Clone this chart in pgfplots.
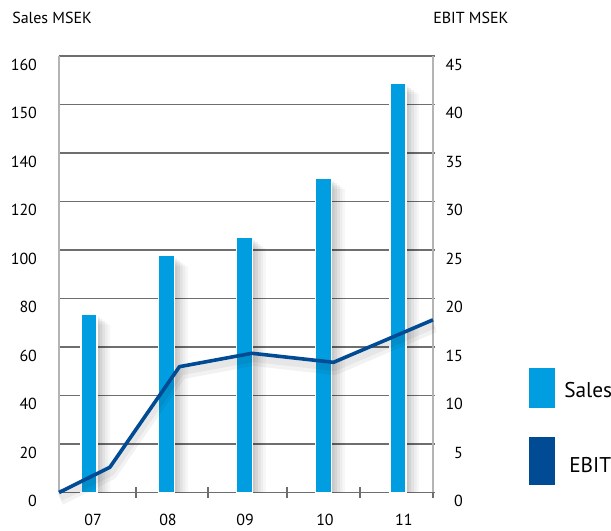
\documentclass[border=0pt]{standalone}
\usepackage{fontspec}
\setmainfont{PT Sans}
\usepackage{pgfplots}
\usepackage{pgfplotstable}
\pgfplotsset{compat=1.18}
\definecolor{salesblue}{HTML}{009EE0}
\definecolor{ebitblue}{HTML}{004B93}
\definecolor{gridgray}{HTML}{6E6E6E}
\definecolor{axisgray}{HTML}{B4B4B4}
\pgfplotstableread{
x    y
0.40 18.4
1.44 24.4
2.48 26.3
3.54 32.4
4.53 42.2
}\salesdata
\pgfplotstableread{
x    y
0    0
0.68 2.6
1.61 12.97
2.58 14.35
3.67 13.42
5    17.8
}\ebitdata
\begin{document}
\begin{tikzpicture}
\useasboundingbox (-44.25pt,-28.875pt) rectangle (414pt,369.375pt);
\begin{axis}[
  at={(0,0)}, anchor=south west, scale only axis,
  width=280.5pt, height=327.375pt,
  xmin=0, xmax=5, ymin=0, ymax=45,
  axis x line*=bottom, axis y line*=left,
  x axis line style={gridgray, line width=1pt, -},
  y axis line style={axisgray, line width=0.8pt, -},
  ytick={0,5,...,45},
  yticklabels={0,20,40,60,80,100,120,140,150,160},
  ymajorgrids, grid style={gridgray, line width=0.9pt},
  ytick style={draw=none},
  xtick={0.455,1.457,2.487,3.556,4.61},
  xticklabels={07,08,09,10,11},
  xtick style={draw=none},
  extra x ticks={1.03,1.99,3.05,4.02,5},
  extra x tick labels={},
  extra x tick style={xtick style={draw=gridgray, line width=1.5pt}, major tick length=8pt, tick align=center},
  tick label style={font=\fontsize{12}{14}\selectfont},
  yticklabel style={anchor=east, xshift=-13pt, yshift=-6.5pt},
  xticklabel style={yshift=-13pt},
  clip=false,
]
% bar shadows (soft, to the right)
\addplot[ybar, bar width=12pt, bar shift=2pt, fill=black, draw=none, fill opacity=0.06] table[x=x, y expr=\thisrow{y}-0.3] {\salesdata};
\addplot[ybar, bar width=12pt, bar shift=4pt, fill=black, draw=none, fill opacity=0.06] table[x=x, y expr=\thisrow{y}-0.5] {\salesdata};
\addplot[ybar, bar width=12pt, bar shift=6pt, fill=black, draw=none, fill opacity=0.05] table[x=x, y expr=\thisrow{y}-0.7] {\salesdata};
\addplot[ybar, bar width=12pt, bar shift=8pt, fill=black, draw=none, fill opacity=0.04] table[x=x, y expr=\thisrow{y}-0.9] {\salesdata};
\addplot[ybar, bar width=12pt, bar shift=10pt, fill=black, draw=none, fill opacity=0.03] table[x=x, y expr=\thisrow{y}-1.1] {\salesdata};
% sales bars
\addplot[ybar, bar width=12pt, bar shift=0pt, fill=salesblue, draw=white, line width=1pt] table[x=x, y=y] {\salesdata};
\end{axis}
\begin{axis}[
  at={(0,0)}, anchor=south west, scale only axis,
  width=280.5pt, height=327.375pt,
  xmin=0, xmax=5, ymin=0, ymax=45,
  axis y line*=right, axis x line=none,
  y axis line style={axisgray, line width=0.8pt, -},
  ytick={0,5,...,45},
  ytick style={gridgray, line width=0.9pt}, tick align=outside, major tick length=1.5pt,
  /pgf/number format/assume math mode=true,
  yticklabel style={anchor=east, xshift=24.5pt, yshift=-6.5pt, font=\fontsize{12}{14}\selectfont},
  clip=false,
]
\addplot[black, opacity=0.05, line width=9pt, line join=round, xshift=1pt, yshift=-5pt] table[x=x, y=y] {\ebitdata};
\addplot[black, opacity=0.05, line width=5pt, line join=round, xshift=1pt, yshift=-4pt] table[x=x, y=y] {\ebitdata};
\addplot[ebitblue, line width=2.7pt, line join=round] table[x=x, y=y] {\ebitdata};
\end{axis}
\node[anchor=west, inner sep=0pt, font=\fontsize{12}{14}\selectfont] at (-35.25pt,355.9pt) {Sales MSEK};
\node[anchor=west, inner sep=0pt, font=\fontsize{12}{14}\selectfont] at (280.5pt,355.9pt) {EBIT MSEK};
\fill[salesblue] (352.5pt,63.6pt) rectangle (372pt,93.4pt);
\fill[ebitblue] (352.5pt,5.6pt) rectangle (372pt,41.6pt);
\node[anchor=west, inner sep=0pt, font=\fontsize{16}{18}\selectfont] at (378.75pt,76.9pt) {Sales};
\node[anchor=west, inner sep=0pt, font=\fontsize{16}{18}\selectfont] at (382.5pt,20.6pt) {EBIT};
\end{tikzpicture}
\end{document}
